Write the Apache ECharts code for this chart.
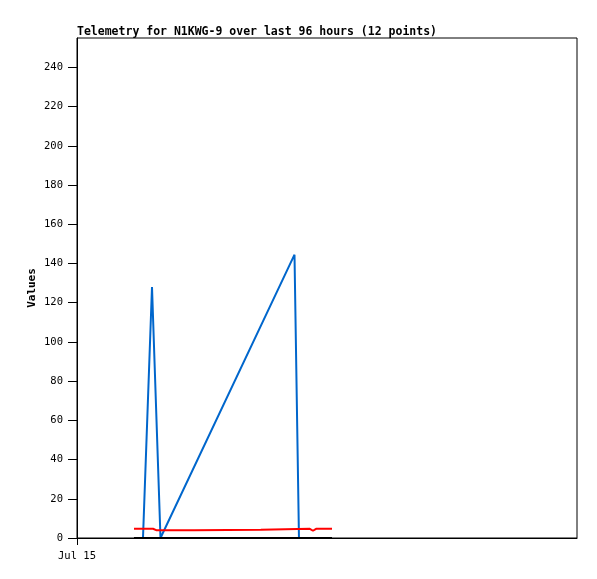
<!DOCTYPE html>
<html>
<head>
<meta charset="utf-8">
<script src="https://cdn.jsdelivr.net/npm/echarts@6/dist/echarts.min.js"></script>
<style>html,body{margin:0;padding:0;background:#fff}#c{width:597px;height:579px}</style>
</head>
<body>
<div id="c"></div>
<script>
const titleText = "Telemetry for N1KWG-9 over last 96 hours (12 points)";
const yTickValues = [0, 20, 40, 60, 80, 100, 120, 140, 160, 180, 200, 220, 240];
const xTickValues = [0];
const xTickLabels = ["Jul 15"];
// hours since start of window
const blueTimes  = [10.94, 12.67, 14.4, 16.03, 41.76, 42.62, 48.96];
const blueValues = [0, 0, 128, 0, 144.5, 0, 0];
const redTimes  = [10.94, 14.6, 15.3, 22.5, 22.7, 35.3, 35.6, 44.7, 45.31, 45.9, 48.96];
const redValues = [4.7, 4.7, 3.9, 3.9, 4.2, 4.2, 4.7, 4.7, 3.7, 4.7, 4.7];
const blackTimes  = [10.94, 48.96];
const blackValues = [0, 0];

const pairs = (t, v) => t.map((x, i) => [x, v[i]]);
const mono = "DejaVu Sans Mono";
const chart = echarts.init(document.getElementById('c'));
chart.setOption({
  animation: false,
  backgroundColor: '#fff',
  title: {
    text: titleText, left: 72, top: 21,
    textStyle: { fontFamily: mono, fontWeight: 'bold', fontSize: 11.5, color: '#000' }
  },
  grid: { left: 77, right: 20, top: 38, bottom: 41, show: true, borderColor: '#000', borderWidth: 1, backgroundColor: '#fff' },
  xAxis: {
    type: 'value', min: 0, max: 96,
    splitLine: { show: false },
    axisLine: { lineStyle: { color: '#000', width: 1 } },
    axisTick: { show: true, length: 7, customValues: xTickValues, lineStyle: { color: '#000' } },
    axisLabel: {
      customValues: xTickValues, margin: 13,
      formatter: v => { const i = xTickValues.indexOf(v); return i >= 0 ? xTickLabels[i] : ''; },
      fontFamily: mono, fontSize: 10.5, color: '#000'
    }
  },
  yAxis: {
    type: 'value', min: 0, max: 255,
    name: 'Values', nameLocation: 'middle', nameGap: 39, nameRotate: 90, nameMoveOverlap: false,
    nameTextStyle: { fontFamily: mono, fontWeight: 'bold', fontSize: 11, color: '#000' },
    splitLine: { show: false },
    axisLine: { show: true, lineStyle: { color: '#000', width: 1 } },
    axisTick: { show: true, length: 9, customValues: yTickValues, lineStyle: { color: '#000' } },
    axisLabel: { customValues: yTickValues, margin: 14, fontFamily: mono, fontSize: 10.5, color: '#000' }
  },
  series: [
    { type: 'line', data: pairs(blueTimes, blueValues), showSymbol: false, lineStyle: { color: '#0066cc', width: 2 }, z: 2 },
    { type: 'line', data: pairs(redTimes, redValues), showSymbol: false, lineStyle: { color: '#ff0000', width: 2 }, z: 3 },
    { type: 'line', data: pairs(blackTimes, blackValues), showSymbol: false, lineStyle: { color: '#000000', width: 2 }, z: 4 }
  ]
});
</script>
</body>
</html>
